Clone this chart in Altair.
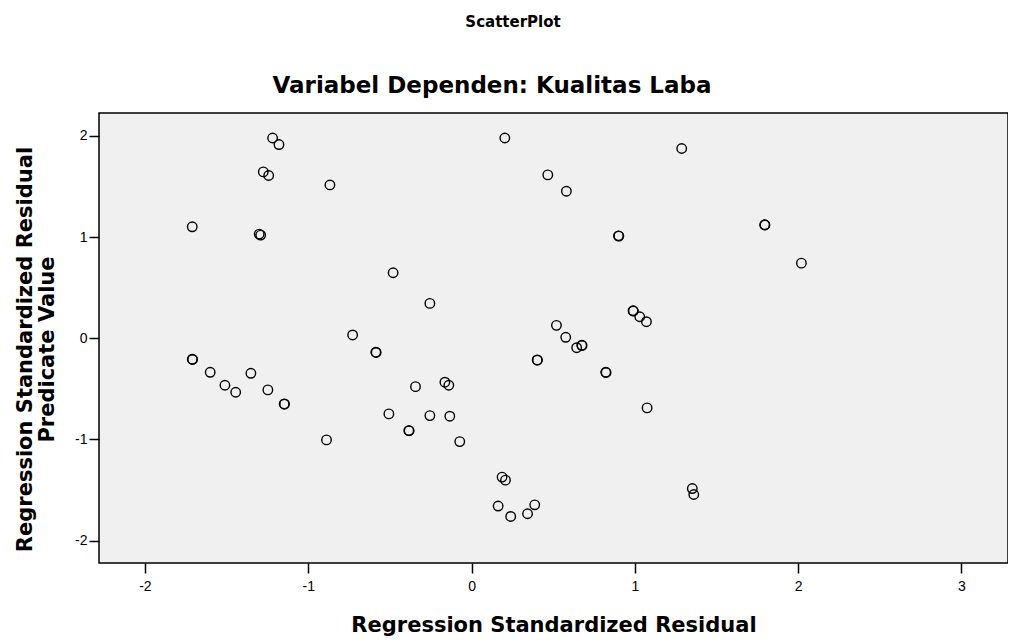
import altair as alt
import pandas as pd

# Scatter values
x_resid = [-1.218, -1.179, -1.275, -1.242, -0.867, -1.710, -1.300, -1.291, -0.480, -0.255,
           -0.728, 0.204, 1.287, 0.467, 0.581, 0.900, 0.902, 1.795, 1.797, 2.020,
           0.989, 0.991, 1.030, 1.071, 0.520, 0.577, -1.710, -1.708, -1.600, -1.510,
           -1.444, -1.351, -1.247, -1.147, -1.145, -0.888, -0.586, -0.584, -0.343, -0.163,
           -0.139, -0.506, -0.384, -0.382, -0.255, -0.133, -0.072, 0.187, 0.208, 0.163,
           0.240, 0.343, 0.387, 0.402, 0.404, 0.644, 0.675, 0.677, 0.822, 0.824,
           1.075, 1.352, 1.361]
y_pred = [1.980, 1.915, 1.645, 1.609, 1.516, 1.102, 1.030, 1.020, 0.648, 0.345,
          0.033, 1.980, 1.876, 1.615, 1.454, 1.013, 1.010, 1.122, 1.120, 0.743,
          0.272, 0.270, 0.213, 0.164, 0.128, 0.010, -0.207, -0.209, -0.336, -0.464,
          -0.533, -0.346, -0.510, -0.649, -0.651, -1.004, -0.138, -0.140, -0.478, -0.434,
          -0.464, -0.747, -0.912, -0.914, -0.764, -0.770, -1.021, -1.372, -1.402, -1.658,
          -1.761, -1.734, -1.646, -0.214, -0.216, -0.093, -0.069, -0.071, -0.336, -0.338,
          -0.688, -1.485, -1.544]

x_ticks = [-2, -1, 0, 1, 2, 3]
y_ticks = [-2, -1, 0, 1, 2]
x_domain = [-2.281, 3.285]
y_domain = [-2.221, 2.227]

top_label = ["ScatterPlot"]
main_title = ["Variabel Dependen: Kualitas Laba"]
x_title = "Regression Standardized Residual"
y_title = ["Regression Standardized Residual", "Predicate Value"]

df = pd.DataFrame({"x": x_resid, "y": y_pred})

FONT = "Liberation Sans"
TFONT = "DejaVu Sans"

points = alt.Chart(df).mark_point(
    shape="circle", filled=False, color="black", size=90, strokeWidth=1.4, opacity=1
).encode(
    x=alt.X("x:Q",
            scale=alt.Scale(domain=x_domain, nice=False, zero=False),
            axis=alt.Axis(values=x_ticks, title=x_title, grid=False, domain=False,
                          tickSize=10, tickWidth=1.5, tickColor="black",
                          labelFont=FONT, labelFontSize=14, labelColor="black",
                          labelPadding=6, labelExpr="datum.value + ''",
                          titleFont=TFONT, titleFontSize=21, titleFontWeight="bold",
                          titleColor="black", titleY=62, titleBaseline="middle")),
    y=alt.Y("y:Q",
            scale=alt.Scale(domain=y_domain, nice=False, zero=False),
            axis=alt.Axis(values=y_ticks, title=y_title, grid=False, domain=False,
                          tickSize=10, tickWidth=1.5, tickColor="black",
                          labelFont=FONT, labelFontSize=14, labelColor="black",
                          labelPadding=2, labelExpr="datum.value + ''",
                          titleFont=TFONT, titleFontSize=21, titleFontWeight="bold",
                          titleColor="black", titleAngle=-90, titleAlign="center",
                          titleBaseline="middle", titleLineHeight=22,
                          titleX=-74, titleY=236)),
)

header = alt.Chart(pd.DataFrame({"t": top_label})).mark_text(
    font=TFONT, fontSize=15, fontWeight="bold", color="black", baseline="middle"
).encode(text="t:N", x=alt.value(414), y=alt.value(-91))

title_mark = alt.Chart(pd.DataFrame({"t": main_title})).mark_text(
    font=TFONT, fontSize=23, fontWeight="bold", color="black", baseline="middle"
).encode(text="t:N", x=alt.value(393), y=alt.value(-27))

chart = alt.layer(points, header, title_mark).properties(
    width=909,
    height=450,
    padding={"left": 91, "top": 105, "right": 0, "bottom": 78},
    autosize=alt.AutoSizeParams(type="none"),
    background="white",
).configure_view(
    fill="#f0f0f0", stroke="black", strokeWidth=1.5
)

chart.save("out.html", embed_options={"renderer": "svg", "actions": False})
